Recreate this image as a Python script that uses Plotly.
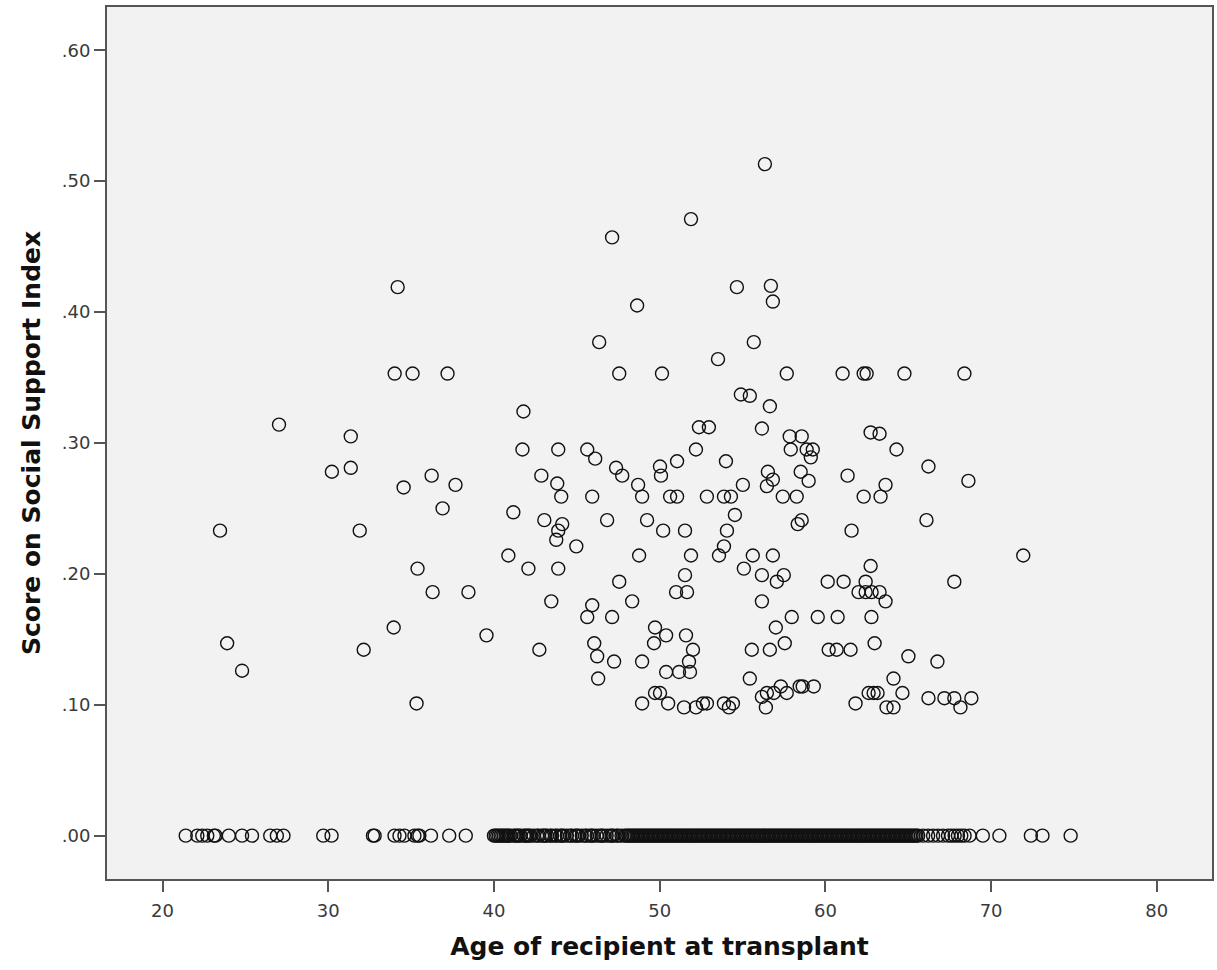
import plotly.graph_objects as go

# Non-zero scores: age of recipient and score on social support index
ages_nonzero = [
    56.35, 51.89, 47.13, 34.19, 48.64, 54.66, 56.71, 56.83, 46.35, 55.68, 53.52,
    34.01, 35.09, 37.20, 47.56, 50.14, 57.67, 61.04, 62.31, 62.49, 64.77, 68.39,
    54.90, 55.44, 56.65, 41.78, 27.03, 31.36, 52.37, 52.97, 56.17, 57.85, 58.57,
    62.73, 63.27, 64.29, 41.72, 43.88, 45.63, 46.11, 52.19, 57.91, 58.87, 59.24,
    59.12, 51.05, 54.00, 47.37, 47.74, 50.02, 50.08, 30.22, 31.36, 36.24, 42.86,
    56.53, 56.83, 56.47, 58.51, 58.99, 61.34, 66.22, 68.63, 34.55, 37.68, 43.82,
    55.02, 63.63, 48.70, 44.06, 45.93, 48.94, 50.63, 51.05, 52.85, 53.88, 54.30,
    57.43, 58.27, 62.31, 63.33, 36.90, 41.17, 54.54, 43.04, 44.12, 43.88, 43.76,
    46.83, 49.24, 50.21, 51.53, 54.06, 58.33, 58.57, 61.58, 66.10, 23.47, 31.90,
    44.97, 53.88, 53.58, 40.87, 48.76, 51.89, 55.62, 56.83, 71.94, 35.39, 42.08,
    43.88, 55.08, 56.17, 57.49, 57.07, 51.53, 47.56, 60.14, 61.10, 62.43, 62.73,
    67.78, 36.30, 38.46, 50.99, 51.65, 62.00, 62.43, 62.79, 63.27, 63.63, 43.46,
    45.93, 45.63, 47.13, 48.34, 56.17, 57.97, 57.01, 59.54, 60.74, 62.78, 33.95,
    39.55, 49.72, 50.39, 49.66, 51.59, 46.05, 23.90, 62.97, 57.55, 32.14, 42.74,
    52.01, 55.56, 56.65, 60.20, 60.68, 61.52, 46.23, 65.01, 47.25, 48.94, 51.77,
    66.76, 24.80, 50.39, 51.17, 51.83, 46.29, 55.44, 64.11, 49.72, 50.02, 35.33,
    48.94, 50.51, 51.47, 52.19, 52.61, 52.85, 53.88, 54.18, 54.42, 56.17, 56.41,
    56.47, 56.89, 57.31, 57.67, 58.45, 58.63, 59.30, 61.82, 62.61, 62.91, 63.15,
    63.69, 64.11, 64.65, 66.22, 67.18, 67.78, 68.81, 68.15,
]
scores_nonzero = [
    0.513, 0.471, 0.457, 0.419, 0.405, 0.419, 0.420, 0.408, 0.377, 0.377, 0.364,
    0.353, 0.353, 0.353, 0.353, 0.353, 0.353, 0.353, 0.353, 0.353, 0.353, 0.353,
    0.337, 0.336, 0.328, 0.324, 0.314, 0.305, 0.312, 0.312, 0.311, 0.305, 0.305,
    0.308, 0.307, 0.295, 0.295, 0.295, 0.295, 0.288, 0.295, 0.295, 0.295, 0.295,
    0.289, 0.286, 0.286, 0.281, 0.275, 0.282, 0.275, 0.278, 0.281, 0.275, 0.275,
    0.278, 0.272, 0.267, 0.278, 0.271, 0.275, 0.282, 0.271, 0.266, 0.268, 0.269,
    0.268, 0.268, 0.268, 0.259, 0.259, 0.259, 0.259, 0.259, 0.259, 0.259, 0.259,
    0.259, 0.259, 0.259, 0.259, 0.250, 0.247, 0.245, 0.241, 0.238, 0.233, 0.226,
    0.241, 0.241, 0.233, 0.233, 0.233, 0.238, 0.241, 0.233, 0.241, 0.233, 0.233,
    0.221, 0.221, 0.214, 0.214, 0.214, 0.214, 0.214, 0.214, 0.214, 0.204, 0.204,
    0.204, 0.204, 0.199, 0.199, 0.194, 0.199, 0.194, 0.194, 0.194, 0.194, 0.206,
    0.194, 0.186, 0.186, 0.186, 0.186, 0.186, 0.186, 0.186, 0.186, 0.179, 0.179,
    0.176, 0.167, 0.167, 0.179, 0.179, 0.167, 0.159, 0.167, 0.167, 0.167, 0.159,
    0.153, 0.159, 0.153, 0.147, 0.153, 0.147, 0.147, 0.147, 0.147, 0.142, 0.142,
    0.142, 0.142, 0.142, 0.142, 0.142, 0.142, 0.137, 0.137, 0.133, 0.133, 0.133,
    0.133, 0.126, 0.125, 0.125, 0.125, 0.120, 0.120, 0.120, 0.109, 0.109, 0.101,
    0.101, 0.101, 0.098, 0.098, 0.101, 0.101, 0.101, 0.098, 0.101, 0.106, 0.098,
    0.109, 0.109, 0.114, 0.109, 0.114, 0.114, 0.114, 0.101, 0.109, 0.109, 0.109,
    0.098, 0.098, 0.109, 0.105, 0.105, 0.105, 0.105, 0.098,
]

# Recipients with a score of .00 (the 48-65 band is a near-solid run of overlapping circles)
ages_zero = [
    21.4, 22.1, 22.4, 22.7, 23.1, 23.2, 24.0, 24.8, 25.4, 26.5, 26.9, 27.3,
    29.7, 30.2, 32.7, 32.8, 34.0, 34.3, 34.6, 35.2, 35.4, 35.5, 36.2, 37.3,
    38.3, 40.0, 40.1, 40.2, 40.3, 40.4, 40.5, 40.6, 40.7, 40.8, 40.9, 41.0,
    41.2, 41.3, 41.4, 41.5, 41.6, 41.8, 41.9, 42.0, 42.1, 42.2, 42.4, 42.6,
    42.7, 42.9, 43.0, 43.1, 43.2, 43.4, 43.5, 43.7, 43.8, 44.0, 44.1, 44.2,
    44.4, 44.6, 44.7, 44.9, 45.0, 45.1, 45.3, 45.5, 45.6, 45.8, 45.9, 46.0,
    46.2, 46.4, 46.5, 46.6, 46.8, 47.0, 47.1, 47.2, 47.4, 47.5, 47.7, 47.9,
    48.0, 48.1, 48.2,
    48.3, 48.4, 48.5, 48.6, 48.7, 48.8, 48.9, 49.0, 49.1, 49.2, 49.3, 49.4,
    49.5, 49.6, 49.7, 49.8, 49.9, 50.0, 50.1, 50.2, 50.3, 50.4, 50.5, 50.6,
    50.7, 50.8, 50.9, 51.0, 51.1, 51.2, 51.3, 51.4, 51.5, 51.6, 51.7, 51.8,
    51.9, 52.0, 52.1, 52.2, 52.3, 52.4, 52.5, 52.6, 52.7, 52.8, 52.9, 53.0,
    53.1, 53.2, 53.3, 53.4, 53.5, 53.6, 53.7, 53.8, 53.9, 54.0, 54.1, 54.2,
    54.3, 54.4, 54.5, 54.6, 54.7, 54.8, 54.9, 55.0, 55.1, 55.2, 55.3, 55.4,
    55.5, 55.6, 55.7, 55.8, 55.9, 56.0, 56.1, 56.2, 56.3, 56.4, 56.5, 56.6,
    56.7, 56.8, 56.9, 57.0, 57.1, 57.2, 57.3, 57.4, 57.5, 57.6, 57.7, 57.8,
    57.9, 58.0, 58.1, 58.2, 58.3, 58.4, 58.5, 58.6, 58.7, 58.8, 58.9, 59.0,
    59.1, 59.2, 59.3, 59.4, 59.5, 59.6, 59.7, 59.8, 59.9, 60.0, 60.1, 60.2,
    60.3, 60.4, 60.5, 60.6, 60.7, 60.8, 60.9, 61.0, 61.1, 61.2, 61.3, 61.4,
    61.5, 61.6, 61.7, 61.8, 61.9, 62.0, 62.1, 62.2, 62.3, 62.4, 62.5, 62.6,
    62.7, 62.8, 62.9, 63.0, 63.1, 63.2, 63.3, 63.4, 63.5, 63.6, 63.7, 63.8,
    63.9, 64.0, 64.1, 64.2, 64.3, 64.4, 64.5, 64.6, 64.7, 64.8, 64.9, 65.0,
    65.1, 65.2, 65.3, 65.4, 65.5, 65.6, 65.9, 66.2, 66.5, 66.8, 67.1, 67.4,
    67.6, 67.8, 68.0, 68.2, 68.4, 68.7, 69.5, 70.5, 72.4, 73.1, 74.8,
]
scores_zero = [0.0] * len(ages_zero)

ages = ages_nonzero + ages_zero
scores = scores_nonzero + scores_zero

y_tick_vals = [0.0, 0.1, 0.2, 0.3, 0.4, 0.5, 0.6]
y_tick_text = [".00", ".10", ".20", ".30", ".40", ".50", ".60"]
x_tick_vals = [20, 30, 40, 50, 60, 70, 80]

fig = go.Figure()
fig.add_trace(go.Scatter(
    x=ages, y=scores, mode="markers",
    marker=dict(symbol="circle-open", size=13, color="#111111",
                line=dict(width=1.4, color="#111111")),
    showlegend=False, hoverinfo="x+y",
))

axis_common = dict(
    showgrid=False, zeroline=False, showline=True, linecolor="#555555",
    linewidth=2, mirror=True, ticks="outside", ticklen=11, tickwidth=1.6,
    tickcolor="#555555", tickfont=dict(family="DejaVu Sans", size=18, color="#3a3a3a"),
)

fig.update_layout(
    width=1217, height=970,
    margin=dict(l=107, r=3, t=7, b=91),
    paper_bgcolor="white", plot_bgcolor="#f2f2f2",
    font=dict(family="DejaVu Sans"),
    xaxis=dict(
        range=[16.65, 83.33], tickvals=x_tick_vals, ticklabelstandoff=3,
        title=dict(text="<b>Age of recipient at transplant</b>",
                   font=dict(family="DejaVu Sans", size=25, color="#111111"),
                   standoff=18),
        **axis_common,
    ),
    yaxis=dict(
        range=[-0.0331, 0.633], tickvals=y_tick_vals, ticktext=y_tick_text,
        title=dict(text="<b>Score on Social Support Index</b>",
                   font=dict(family="DejaVu Sans", size=25, color="#111111"),
                   standoff=14),
        **axis_common,
    ),
)

fig.write_html(
    "out.html",
    config={"responsive": False, "displayModeBar": False},
    post_script="document.body.style.margin='0';document.body.style.overflow='hidden';",
)
